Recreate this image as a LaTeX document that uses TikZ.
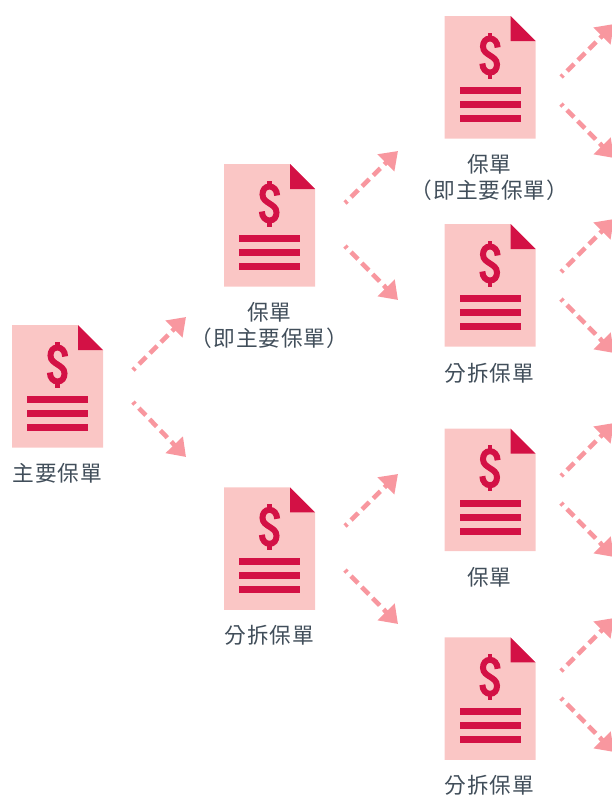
\documentclass[tikz,border=0pt]{standalone}
\usepackage{fontspec}
\usetikzlibrary{arrows.meta}
\newfontfamily\cjkfont[LetterSpace=4]{Noto Sans CJK TC}
\definecolor{sheetpink}{HTML}{FAC6C5}
\definecolor{inkred}{HTML}{D31145}
\definecolor{arrowpink}{HTML}{F8979F}
\definecolor{labelslate}{HTML}{414E5A}
\tikzset{
  sheet/.style={fill=sheetpink,draw=none},
  inkfill/.style={fill=inkred,draw=none},
  dollarstroke/.style={draw=inkred,line width=6pt,line cap=butt},
  flow/.style={draw=arrowpink,line width=4.6pt,dash pattern=on 10pt off 5.5pt,dash phase=7pt,-{Triangle[length=17pt,width=23pt,fill=arrowpink]}},
  caption/.style={text=labelslate,align=center,inner sep=0pt,font=\cjkfont\fontsize{21.7}{26}\selectfont},
  policy/.pic={
    \path[sheet] (0,0) -- (66,0) -- (91,25) -- (91,122.5) -- (0,122.5) -- cycle;
    \path[inkfill] (66,0) -- (91,25) -- (66,25) -- cycle;
    \path[inkfill] (15,71) rectangle (76,78);
    \path[inkfill] (15,85) rectangle (76,92);
    \path[inkfill] (15,99) rectangle (76,106);
    \begin{scope}[shift={(45.5,39.5)}]
      \path[dollarstroke] (7.6,-8) .. controls (7.6,-13.5) and (4,-17) .. (0,-17) .. controls (-4.5,-17) and (-7,-13.5) .. (-7,-9) .. controls (-7,-4) and (-3,-2) .. (0,0) .. controls (3,2) and (7,4) .. (7,9) .. controls (7,13.5) and (4.5,17) .. (0,17) .. controls (-4,17) and (-7.6,13.5) .. (-7.6,8);
      \path[inkfill] (-2.4,-23) rectangle (2.4,-17);
      \path[inkfill] (-2.4,17) rectangle (2.4,23);
    \end{scope}
  }
}
\begin{document}
\begin{tikzpicture}[x=1pt,y=-1pt]
\useasboundingbox (0,0) rectangle (612,795);
\clip (0,0) rectangle (612,795);
% documents
\pic at (12,325) {policy};
\pic at (224,164) {policy};
\pic at (224,487.3) {policy};
\pic at (444.5,16) {policy};
\pic at (444.5,224) {policy};
\pic at (444.5,428.7) {policy};
\pic at (444.5,637.3) {policy};
% captions
\node[caption] (capA) at (57.5,473.5) {主要保單};
\node[caption] (capB) at (269.5,325.5) {保單\\（即主要保單）};
\node[caption] (capC) at (269.5,635.5) {分拆保單};
\node[caption] (capD) at (489.5,177) {保單\\（即主要保單）};
\node[caption] (capE) at (489.5,373) {分拆保單};
\node[caption] (capF) at (489.5,577) {保單};
\node[caption] (capG) at (489.5,785.5) {分拆保單};
% connector ends
\foreach \n/\sx/\sy/\tx/\ty in {
  a/133/370/186/317, b/133/402/186/457,
  c/345/203/398/151, d/345/246/398/300,
  e/345/526/398/474, f/345/570/398/624,
  g/561/77/614/24, h/561/104/614/158,
  i/561/272/614/219, j/561/299/614/353,
  k/561/476/614/423, l/561/503/614/557,
  m/561/671/614/618, n/561/698/614/752}{
  \coordinate (\n from) at (\sx,\sy);
  \coordinate (\n to) at (\tx,\ty);
  \draw[flow] (\n from) -- (\n to);
}
\end{tikzpicture}
\end{document}
